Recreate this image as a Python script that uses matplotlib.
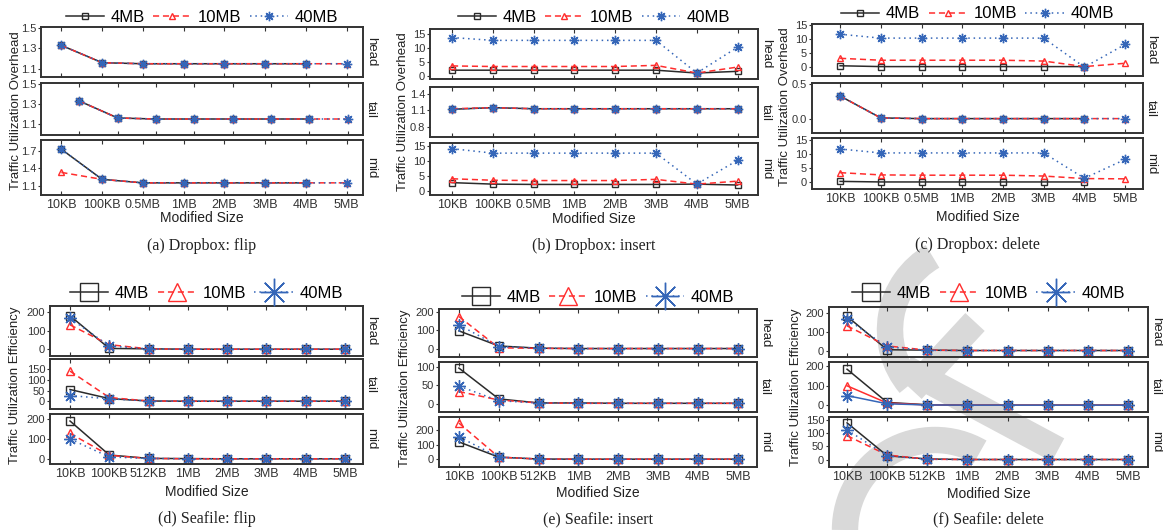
import numpy as np
import matplotlib.pyplot as plt
from matplotlib.patches import Arc

plt.rcParams['font.family'] = ['Liberation Sans', 'DejaVu Sans']

W, H = 1163, 530
nan = np.nan

# ---------------------------------------------------------------------------
# Data (rows: 4MB, 10MB, 40MB)
# ---------------------------------------------------------------------------
series = ['4MB', '10MB', '40MB']
sizes_dropbox = ['10KB', '100KB', '0.5MB', '1MB', '2MB', '3MB', '4MB', '5MB']
sizes_seafile = ['10KB', '100KB', '512KB', '1MB', '2MB', '3MB', '4MB', '5MB']

# (a) Dropbox: flip
a_head = [[1.33, 1.16, 1.15, 1.15, 1.15, 1.15, 1.15, nan],
          [1.33, 1.16, 1.15, 1.15, 1.15, 1.15, 1.15, 1.15],
          [1.33, 1.16, 1.15, 1.15, 1.15, 1.15, 1.15, 1.15]]
a_tail = [[1.33, 1.16, 1.15, 1.15, 1.15, 1.15, 1.15, nan],
          [1.33, 1.16, 1.15, 1.15, 1.15, 1.15, 1.15, 1.15],
          [1.33, 1.16, 1.15, 1.15, 1.15, 1.15, 1.15, 1.15]]
a_mid = [[1.73, 1.21, 1.15, 1.15, 1.15, 1.15, 1.15, nan],
         [1.33, 1.21, 1.15, 1.15, 1.15, 1.15, 1.15, 1.15],
         [1.73, 1.21, 1.15, 1.15, 1.15, 1.15, 1.15, 1.15]]

# (b) Dropbox: insert
b_head = [[2.2, 2.2, 2.2, 2.2, 2.2, 2.2, 1.2, 1.8],
          [3.7, 3.5, 3.5, 3.5, 3.5, 3.9, 1.2, 3.3],
          [13.7, 12.7, 12.7, 12.7, 12.7, 12.7, 1.2, 10.3]]
b_tail = [[1.12, 1.15, 1.13, 1.13, 1.13, 1.13, 1.13, 1.13],
          [1.13, 1.15, 1.13, 1.13, 1.13, 1.13, 1.13, 1.13],
          [1.12, 1.15, 1.13, 1.13, 1.13, 1.13, 1.13, 1.13]]
b_mid = [[2.8, 2.3, 2.2, 2.2, 2.2, 2.2, 2.3, 2.0],
         [4.1, 3.6, 3.5, 3.5, 3.5, 3.9, 2.3, 3.3],
         [14.2, 12.7, 12.7, 12.7, 12.7, 12.7, 2.3, 10.3]]

# (c) Dropbox: delete
c_head = [[0.3, 0.0, 0.0, 0.0, 0.0, 0.0, 0.0, nan],
          [3.0, 2.3, 2.3, 2.3, 2.3, 2.0, 0.0, 1.2],
          [11.7, 10.3, 10.3, 10.3, 10.3, 10.3, -0.2, 8.0]]
c_tail = [[0.33, 0.01, 0.0, 0.0, 0.0, 0.0, 0.0, nan],
          [0.33, 0.01, 0.0, 0.0, 0.0, 0.0, 0.0, 0.0],
          [0.33, 0.01, 0.0, 0.0, 0.0, 0.0, 0.0, 0.0]]
c_mid = [[0.2, 0.0, 0.0, 0.0, 0.0, 0.0, 0.0, nan],
         [3.3, 2.5, 2.4, 2.4, 2.4, 2.1, 1.2, 1.1],
         [11.7, 10.3, 10.3, 10.3, 10.3, 10.3, 1.3, 8.0]]

# (d) Seafile: flip
d_head = [[178, 5, 3, 1, 1, 1, 1, 1],
          [130, 25, 3, 1, 1, 1, 1, 1],
          [165, 18, 3, 1, 1, 1, 1, 1]]
d_tail = [[55, 13, 2, 1, 1, 1, 1, 1],
          [140, 18, 2, 1, 1, 1, 1, 1],
          [27, 12, 2, 1, 1, 1, 1, 1]]
d_mid = [[190, 20, 3, 2, 1, 1, 1, 1],
         [128, 18, 3, 1, 1, 1, 1, 1],
         [100, 10, 3, 1, 1, 1, 1, 1]]

# (e) Seafile: insert
e_head = [[97, 15, 3, 1, 1, 1, 1, 1],
          [175, 5, 2, 1, 1, 1, 1, 1],
          [130, 12, 3, 1, 1, 1, 1, 1]]
e_tail = [[97, 13, 2, 2, 1, 1, 1, 1],
          [33, 10, 2, 1, 1, 1, 1, 1],
          [48, 8, 2, 1, 1, 1, 1, 1]]
e_mid = [[120, 15, 2, 1, 1, 1, 1, 1],
         [250, 15, 2, 1, 1, 1, 1, 1],
         [155, 15, 2, 1, 1, 1, 1, 1]]

# (f) Seafile: delete
f_head = [[180, 5, 3, 1, 1, 1, 1, 1],
          [130, 25, 3, 1, 1, 1, 1, 1],
          [165, 20, 2, 1, 1, 1, 1, 1]]
f_tail = [[185, 15, 3, 1, 1, 1, 1, 1],
          [100, 12, 2, 1, 1, 1, 1, 1],
          [50, 8, 2, 1, 1, 1, 1, 1]]
f_mid = [[138, 15, 3, 1, 1, 1, 1, 1],
         [90, 18, 2, 1, 1, 1, 1, 1],
         [112, 15, 2, 1, 1, 1, 1, 1]]

# ---------------------------------------------------------------------------
# Styling
# ---------------------------------------------------------------------------
COL = ['#2b2b2b', '#ff2d2d', '#3566b8']
LS = ['-', (0, (4, 2.5)), (0, (1, 2.5))]
MK = ['s', '^', (8, 2, 0)]
SPINE = '#333333'
WM = '#d9d9d9'

# layout in pixels: left, right, rows (top, bottom), xlim, legend y,
# ylabel x, xlabel y, caption y
PANELS = [
    dict(data=[a_head, a_tail, a_mid], sizes=sizes_dropbox, left=41, right=363,
         rows=[(27, 77), (83, 135), (140, 195)],
         xlim=[(-0.5, 7.4), (-1.0, 7.4), (-0.5, 7.4)],
         ylim=[(1.02, 1.51), (0.99, 1.51), (0.94, 1.89)],
         yticks=[[1.1, 1.3, 1.5], [1.1, 1.3, 1.5], [1.1, 1.4, 1.7]],
         leg_y=17, ylab_x=16, xlab_y=218, cap_y=246, big=False,
         ylabel='Traffic Utilization Overhead', caption='(a) Dropbox: flip'),
    dict(data=[b_head, b_tail, b_mid], sizes=sizes_dropbox, left=430, right=758,
         rows=[(29, 79), (87, 137), (143, 195)],
         xlim=[(-0.54, 7.5)] * 3,
         ylim=[(-0.9, 16.7), (0.61, 1.53), (-1.35, 16.1)],
         yticks=[[0, 5, 10, 15], [0.8, 1.1, 1.4], [0, 5, 10, 15]],
         leg_y=17, ylab_x=403, xlab_y=219, cap_y=246, big=False,
         ylabel='Traffic Utilization Overhead', caption='(b) Dropbox: insert'),
    dict(data=[c_head, c_tail, c_mid], sizes=sizes_dropbox, left=812, right=1143,
         rows=[(24, 76), (83, 133), (138, 189)],
         xlim=[(-0.69, 7.44)] * 3,
         ylim=[(-3.4, 15.4), (-0.21, 0.52), (-2.5, 15.6)],
         yticks=[[0, 5, 10, 15], [0.0, 0.5], [0, 5, 10, 15]],
         leg_y=14, ylab_x=785, xlab_y=217, cap_y=245, big=False,
         ylabel='Traffic Utilization Overhead', caption='(c) Dropbox: delete'),
    dict(data=[d_head, d_tail, d_mid], sizes=sizes_seafile, left=50, right=363,
         rows=[(306, 356), (359, 409), (414, 464)],
         xlim=[(-0.51, 7.46)] * 3,
         ylim=[(-35, 230), (-35, 196), (-25, 225)],
         yticks=[[0, 100, 200], [0, 50, 100, 150], [0, 100, 200]],
         leg_y=293, ylab_x=15, xlab_y=492, cap_y=519, big=True,
         ylabel='Traffic Utilization Efficiency', caption='(d) Seafile: flip'),
    dict(data=[e_head, e_tail, e_mid], sizes=sizes_seafile, left=439, right=757,
         rows=[(309, 357), (362, 412), (417, 467)],
         xlim=[(-0.5, 7.48)] * 3,
         ylim=[(-45, 216), (-22.7, 113.6), (-53, 292)],
         yticks=[[0, 100, 200], [0, 50, 100], [0, 100, 200]],
         leg_y=297, ylab_x=405, xlab_y=493, cap_y=519, big=True,
         ylabel='Traffic Utilization Efficiency', caption='(e) Seafile: insert'),
    dict(data=[f_head, f_tail, f_mid], sizes=sizes_seafile, left=829, right=1148,
         rows=[(307, 357), (362, 412), (417, 467)],
         xlim=[(-0.45, 7.5)] * 3,
         ylim=[(-33, 229), (-34, 222), (-27, 160)],
         yticks=[[0, 100, 200], [0, 100, 200], [0, 50, 100, 150]],
         leg_y=293, ylab_x=796, xlab_y=494, cap_y=519, big=True,
         ylabel='Traffic Utilization Efficiency', caption='(f) Seafile: delete'),
]
ROW_NAMES = ['head', 'tail', 'mid']


def fx(px):
    return px / W


def fy(py):
    return 1 - py / H


fig = plt.figure(figsize=(W / 100, H / 100), dpi=100)

# light grey watermark in the background
bg = fig.add_axes([0, 0, 1, 1], zorder=0)
bg.set_xlim(0, W)
bg.set_ylim(H, 0)
bg.axis('off')
bg.add_patch(Arc((975, 330), 170, 170, theta1=140, theta2=240, lw=19, color=WM))
bg.add_patch(Arc((935, 530), 180, 180, theta1=180, theta2=300, lw=19, color=WM))
bg.plot([905, 1058], [368, 450], lw=19, color=WM, solid_capstyle='butt')
bg.plot([975, 912], [322, 390], lw=19, color=WM, solid_capstyle='butt')

for p in PANELS:
    big = p['big']
    ms = 6 if big else 4.5
    x = np.arange(len(p['sizes']))
    handles = None
    for i, (t, b) in enumerate(p['rows']):
        ax = fig.add_axes([fx(p['left']), fy(b), fx(p['right'] - p['left']),
                           (b - t) / H], zorder=2)
        ax.set_facecolor('none')
        lines = []
        for k in range(3):
            ls = LS[k]
            if p['caption'].startswith('(f)') and i == 1:
                ls = '-'
            star = k == 2
            ln, = ax.plot(x, p['data'][i][k], color=COL[k], linestyle=ls,
                          lw=1.1, marker=MK[k],
                          ms=ms * (1.5 if star else 1.0),
                          mfc='none', mec=COL[k], mew=1.0,
                          label=series[k])
            lines.append(ln)
        if handles is None:
            handles = lines
        ax.set_xlim(*p['xlim'][i])
        ax.set_ylim(*p['ylim'][i])
        ax.set_yticks(p['yticks'][i])
        if p['caption'].startswith('(c)') and i == 1:
            ax.set_yticklabels(['0.0', '0.5'])
        ax.set_xticks(x)
        if i == 2:
            ax.set_xticklabels(p['sizes'])
        else:
            ax.set_xticklabels([])
        ax.tick_params(axis='x', direction='in', top=True, length=3,
                       labelsize=9, colors=SPINE, pad=3)
        ax.tick_params(axis='y', direction='out', length=2.5, labelsize=8,
                       colors=SPINE, pad=1)
        for s in ax.spines.values():
            s.set_color(SPINE)
            s.set_linewidth(1.4)
        ax.text(1.006, 0.5, ROW_NAMES[i], transform=ax.transAxes,
                rotation=-90, ha='left', va='center', fontsize=9.5,
                color='#222222')

    cx = (p['left'] + p['right']) / 2
    yc = (p['rows'][0][0] + p['rows'][2][1]) / 2
    fig.legend(handles, series, loc='center', bbox_to_anchor=(fx(cx), fy(p['leg_y'])),
               ncol=3, frameon=False, fontsize=12, handlelength=2.3,
               handletextpad=0.4, columnspacing=0.5, borderpad=0,
               markerscale=2.2 if big else 1.0)
    fig.text(fx(p['ylab_x']), fy(yc), p['ylabel'], rotation=90,
             ha='center', va='center', fontsize=9.5, color='#222222')
    fig.text(fx(cx), fy(p['xlab_y']), 'Modified Size', ha='center',
             va='center', fontsize=10, color='#222222')
    fig.text(fx(cx), fy(p['cap_y']), p['caption'], ha='center', va='center',
             fontsize=11.5, family=['Liberation Serif', 'DejaVu Serif'],
             color='#222222')

fig.savefig('out.png', dpi=100)
